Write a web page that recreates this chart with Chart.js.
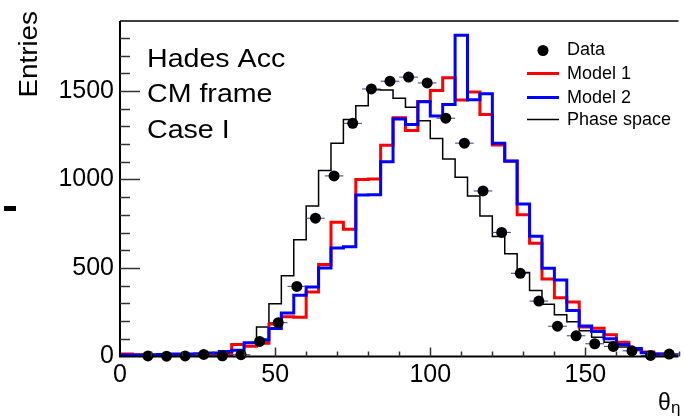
<!DOCTYPE html>
<html>
<head>
<meta charset="utf-8">
<script src="https://cdn.jsdelivr.net/npm/chart.js@4.4.1/dist/chart.umd.min.js"></script>
<style>
  html, body { margin: 0; padding: 0; background: #fff; }
  canvas { display: block; }
</style>
</head>
<body>
<canvas id="chart" width="684" height="420"></canvas>
<script>
// histogram binning (models: 4 deg bins, data: 6 deg bins)
const histLow = 0, histWidth = 4;
const dataLow = 0, dataWidth = 6;

const phaseSpace = [3, 3, 4, 4, 5, 6, 8, 10, 15, 35,
  78, 167, 298, 456, 660, 850, 1050, 1204, 1339, 1416,
  1507, 1505, 1459, 1408, 1332, 1231, 1116, 1012, 906, 793,
  678, 580, 474, 373, 295, 236, 196, 145, 109, 81,
  54, 36, 21, 12, 6];

const model1 = [14, 10, 6, 5, 8, 12, 10, 6, 8, 68,
  58, 75, 183, 225, 222, 364, 519, 758, 719, 1000,
  1003, 1193, 1348, 1277, 1440, 1502, 1574, 1449, 1494, 1367,
  1195, 1103, 800, 640, 438, 332, 308, 167, 160, 123,
  81, 45, 26, 14, 8];

const model2 = [8, 8, 10, 12, 14, 14, 16, 20, 28, 35,
  78, 94, 158, 245, 346, 392, 500, 613, 620, 912,
  914, 1100, 1341, 1310, 1439, 1359, 1423, 1815, 1450, 1484,
  1205, 1104, 862, 679, 498, 432, 260, 172, 141, 100,
  68, 45, 21, 14, 8];

const dataEntries = [null, 3, 2, 3, 12, 4, 10, 85, 191, 396,
  781, 1020, 1317, 1511, 1555, 1578, 1545, 1346, 1205, 935,
  701, 470, 313, 171, 117, 72, 57, 32, 6, 14];

const xTicks = [0, 50, 100, 150];
const yTicks = [0, 500, 1000, 1500];

const FONT = '"Liberation Sans", Arial, Helvetica, sans-serif';

function stepPoints(vals) {
  const pts = vals.map((v, i) => ({ x: histLow + i * histWidth, y: v }));
  pts.push({ x: histLow + vals.length * histWidth, y: vals[vals.length - 1] });
  return pts;
}

const dataPoints = dataEntries.map((v, i) => ({ x: dataLow + (i + 0.5) * dataWidth, y: v }));

function stretchText(ctx, txt, x, y, sx) {
  ctx.save();
  ctx.translate(x, y);
  ctx.scale(sx, 1);
  ctx.fillText(txt, 0, 0);
  ctx.restore();
}

const decor = {
  id: 'decor',
  beforeDraw(chart) {
    const ctx = chart.ctx;
    ctx.save();
    ctx.fillStyle = '#fff';
    ctx.fillRect(0, 0, chart.width, chart.height);
    ctx.restore();
  },
  beforeDatasetDraw(chart, args) {
    if (args.index !== 0) return;
    // horizontal error bars of the data points
    const ctx = chart.ctx, xs = chart.scales.x, ys = chart.scales.y;
    ctx.save();
    ctx.strokeStyle = '#3a3a8c';
    ctx.lineWidth = 1;
    dataPoints.forEach(p => {
      if (p.y == null) return;
      const py = ys.getPixelForValue(p.y);
      ctx.beginPath();
      ctx.moveTo(xs.getPixelForValue(p.x - dataWidth / 2), py);
      ctx.lineTo(xs.getPixelForValue(p.x + dataWidth / 2), py);
      ctx.stroke();
    });
    ctx.restore();
  },
  afterDraw(chart) {
    const ctx = chart.ctx, a = chart.chartArea;
    const xs = chart.scales.x, ys = chart.scales.y;
    ctx.save();

    // frame
    ctx.strokeStyle = '#000';
    ctx.lineWidth = 1.5;
    ctx.beginPath();
    ctx.moveTo(a.left, a.top);
    ctx.lineTo(a.right, a.top);
    ctx.stroke();
    ctx.lineWidth = 2;
    ctx.beginPath();
    ctx.moveTo(a.left, a.top);
    ctx.lineTo(a.left, a.bottom);
    ctx.lineTo(a.right, a.bottom);
    ctx.stroke();

    // inward ticks
    ctx.strokeStyle = '#333';
    ctx.lineWidth = 1.5;
    for (let v = 100; v <= 1800; v += 100) {
      const py = Math.round(ys.getPixelForValue(v)) + 0.5;
      const len = v % 500 === 0 ? 20 : 10;
      ctx.beginPath();
      ctx.moveTo(a.left, py);
      ctx.lineTo(a.left + len, py);
      ctx.stroke();
    }
    for (let v = 10; v <= 180; v += 10) {
      const px = Math.round(xs.getPixelForValue(v)) + 0.5;
      const len = v % 50 === 0 ? 9 : 5;
      ctx.beginPath();
      ctx.moveTo(px, a.bottom);
      ctx.lineTo(px, a.bottom - len);
      ctx.stroke();
    }

    ctx.fillStyle = '#000';
    ctx.textBaseline = 'alphabetic';

    // axis titles
    ctx.font = '26px ' + FONT;
    ctx.save();
    ctx.translate(37, 11);
    ctx.rotate(-Math.PI / 2);
    ctx.scale(1.07, 1);
    ctx.textAlign = 'right';
    ctx.fillText('Entries', 0, 0);
    ctx.restore();

    ctx.textAlign = 'left';
    ctx.font = '23px ' + FONT;
    ctx.fillText('θ', 658, 410);
    ctx.font = '17px ' + FONT;
    ctx.fillText('η', 671, 413);

    ctx.fillRect(4, 206, 12, 5);

    // annotation
    ctx.font = '26px ' + FONT;
    stretchText(ctx, 'Hades Acc', 147, 67, 1.1);
    stretchText(ctx, 'CM frame', 147, 102, 1.1);
    stretchText(ctx, 'Case I', 147, 137.5, 1.1);

    // legend
    ctx.beginPath();
    ctx.arc(543, 50.5, 5.5, 0, Math.PI * 2);
    ctx.fill();
    const legendLines = [
      { color: '#ff0000', w: 3, y: 73.5 },
      { color: '#0000ff', w: 3, y: 97.5 },
      { color: '#000000', w: 1.5, y: 119.5 }
    ];
    legendLines.forEach(l => {
      ctx.strokeStyle = l.color;
      ctx.lineWidth = l.w;
      ctx.beginPath();
      ctx.moveTo(527, l.y);
      ctx.lineTo(559, l.y);
      ctx.stroke();
    });
    ctx.font = '18px ' + FONT;
    ctx.fillText('Data', 567, 55);
    ctx.fillText('Model 1', 567, 78.5);
    ctx.fillText('Model 2', 567, 102.5);
    ctx.fillText('Phase space', 567, 124.5);

    ctx.restore();
  }
};

// 'before': horizontal run at the bin's own value, then the vertical step
const lineBase = { type: 'line', stepped: 'before', pointRadius: 0, fill: false,
  borderJoinStyle: 'miter', borderCapStyle: 'butt' };

new Chart(document.getElementById('chart').getContext('2d'), {
  type: 'scatter',
  data: {
    datasets: [
      { label: 'Data', data: dataPoints, showLine: false, pointRadius: 5.5,
        pointBackgroundColor: '#000', pointBorderWidth: 0, pointBorderColor: '#000',
        order: 0, clip: false },
      Object.assign({ label: 'Model 2', data: stepPoints(model2), borderColor: '#0000ff',
        borderWidth: 3, order: 1 }, lineBase),
      Object.assign({ label: 'Model 1', data: stepPoints(model1), borderColor: '#ff0000',
        borderWidth: 3, order: 2 }, lineBase),
      Object.assign({ label: 'Phase space', data: stepPoints(phaseSpace), borderColor: '#000000',
        borderWidth: 1.5, order: 3 }, lineBase)
    ]
  },
  options: {
    responsive: false,
    animation: false,
    devicePixelRatio: 1,
    layout: { padding: { top: 10.5, left: 0, right: 0, bottom: 0 } },
    plugins: { legend: { display: false }, tooltip: { enabled: false } },
    scales: {
      x: {
        type: 'linear', min: 0, max: 180,
        grid: { display: false, drawTicks: false },
        border: { display: false },
        afterBuildTicks: s => { s.ticks = xTicks.map(v => ({ value: v })); },
        afterFit: s => { s.height = 63.5; },
        ticks: { font: { family: FONT, size: 25 }, color: '#000', padding: 4,
          maxRotation: 0, autoSkip: false, callback: v => String(v) }
      },
      y: {
        type: 'linear', min: 0, max: 1895,
        grid: { display: false, drawTicks: false },
        border: { display: false },
        afterBuildTicks: s => { s.ticks = yTicks.map(v => ({ value: v })); },
        afterFit: s => { s.width = 120; },
        ticks: { font: { family: FONT, size: 25 }, color: '#000', padding: 6,
          autoSkip: false, callback: v => String(v) }
      }
    }
  },
  plugins: [decor]
});
</script>
</body>
</html>
